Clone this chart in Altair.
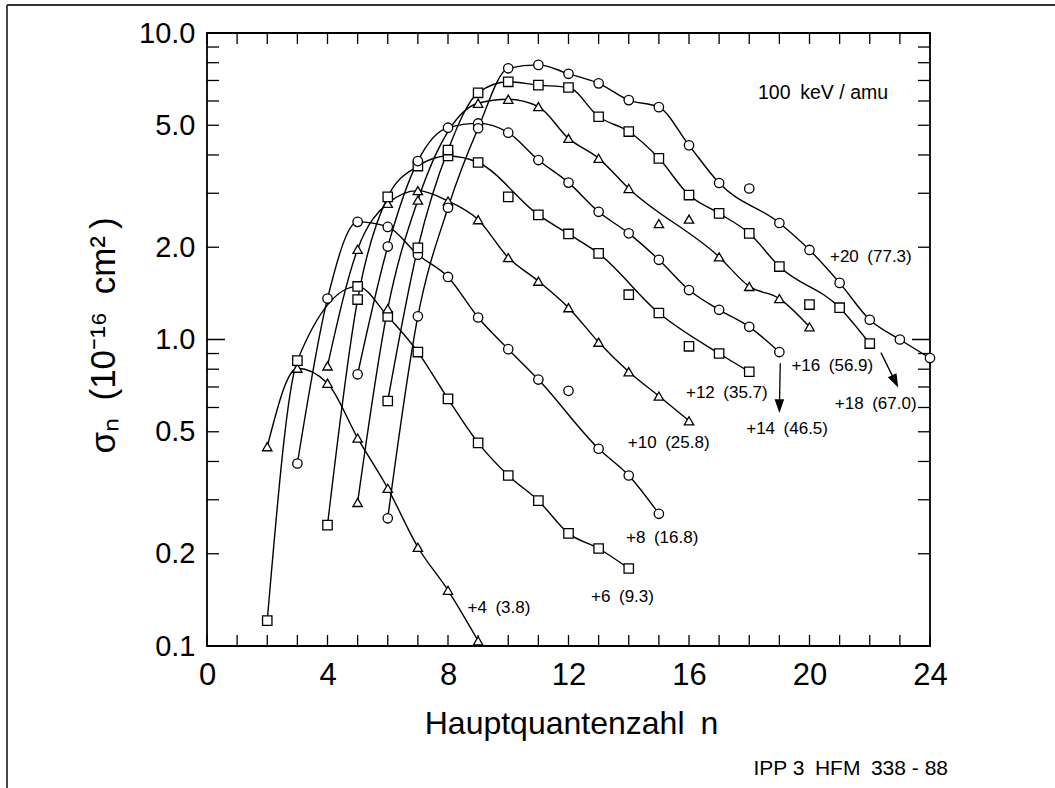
import altair as alt
import pandas as pd

# ---------------- data ----------------
series_names = ["+4", "+6", "+8", "+10", "+12", "+14", "+16", "+18", "+20"]
series_shapes = ["triangle-up", "square", "circle", "triangle-up", "square",
                 "circle", "triangle-up", "square", "circle"]

n_q4 = [2, 3, 4, 5, 6, 7, 8, 9]
s_q4 = [0.447, 0.806, 0.72, 0.477, 0.327, 0.21, 0.152, 0.104]

n_q6 = [2, 3, 5, 6, 7, 8, 9, 10, 11, 12, 13, 14]
s_q6 = [0.121, 0.853, 1.49, 1.19, 0.91, 0.64, 0.46, 0.36, 0.298, 0.233, 0.208, 0.179]

n_q8 = [3, 4, 5, 6, 7, 8, 9, 10, 11, 12, 13, 14, 15]
s_q8 = [0.394, 1.36, 2.42, 2.33, 1.89, 1.60, 1.18, 0.93, 0.74, 0.68, 0.44, 0.36, 0.27]

n_q10 = [4, 5, 6, 7, 8, 9, 10, 11, 12, 13, 14, 15, 16]
s_q10 = [0.82, 1.97, 2.78, 3.06, 2.83, 2.46, 1.85, 1.55, 1.27, 0.98, 0.785, 0.654, 0.543]

n_q12 = [4, 5, 6, 7, 8, 9, 10, 11, 12, 13, 14, 15, 16, 17, 18]
s_q12 = [0.248, 1.35, 2.92, 3.68, 3.97, 3.78, 2.92, 2.55, 2.21, 1.91, 1.40, 1.22, 0.95, 0.90, 0.785]

n_q14 = [5, 6, 7, 8, 9, 10, 11, 12, 13, 14, 15, 16, 17, 18, 19]
s_q14 = [0.77, 2.01, 3.82, 4.91, 5.07, 4.73, 3.85, 3.25, 2.61, 2.22, 1.82, 1.45, 1.25, 1.10, 0.91]

n_q16 = [5, 6, 7, 9, 10, 11, 12, 13, 14, 15, 16, 17, 18, 19, 20]
s_q16 = [0.294, 1.26, 2.85, 5.90, 6.08, 5.75, 4.53, 3.90, 3.11, 2.39, 2.47, 1.86, 1.49, 1.36, 1.10]

n_q18 = [6, 7, 8, 9, 10, 11, 12, 13, 14, 15, 16, 17, 18, 19, 20, 21, 22]
s_q18 = [0.63, 1.99, 4.15, 6.38, 6.93, 6.76, 6.64, 5.33, 4.77, 3.90, 2.96, 2.58, 2.22, 1.73, 1.30, 1.27, 0.97]

n_q20 = [6, 7, 8, 9, 10, 11, 12, 13, 14, 15, 16, 17, 18, 19, 20, 21, 22, 23, 24]
s_q20 = [0.261, 1.19, 2.69, 4.89, 7.67, 7.87, 7.36, 6.85, 6.04, 5.73, 4.30, 3.24, 3.11, 2.40,
         1.96, 1.53, 1.16, 1.0, 0.87]

# markers that lie off the drawn smooth curves
off_curve = {"+8": [12], "+12": [10, 14, 16], "+16": [15, 16], "+18": [20], "+20": [18]}

all_n = [n_q4, n_q6, n_q8, n_q10, n_q12, n_q14, n_q16, n_q18, n_q20]
all_s = [s_q4, s_q6, s_q8, s_q10, s_q12, s_q14, s_q16, s_q18, s_q20]

# curve labels
label_text = ["+4\u2002(3.8)", "+6\u2002(9.3)", "+8\u2002(16.8)", "+10\u2002(25.8)",
              "+12\u2002(35.7)", "+14\u2002(46.5)", "+16\u2002(56.9)", "+18\u2002(67.0)",
              "+20\u2002(77.3)"]
label_n = [8.65, 12.75, 13.91, 13.97, 15.9, 17.9, 19.4, 20.84, 20.68]
label_s = [0.133, 0.145, 0.225, 0.458, 0.67, 0.509, 0.819, 0.617, 1.86]

# arrows (start -> end) for +14 and +18
arrow_n0 = [19.03, 22.37]
arrow_s0 = [0.837, 0.906]
arrow_n1 = [19.0, 22.9]
arrow_s1 = [0.589, 0.711]
arrow_angle = [0, 334]

# axes
x_label_values = [0, 4, 8, 12, 16, 20, 24]
y_label_values = [0.1, 0.2, 0.5, 1.0, 2.0, 5.0, 10.0]
x_tick_values = list(range(0, 25))
y_minor_ticks = [0.2, 0.3, 0.4, 0.5, 0.6, 0.7, 0.8, 0.9, 2, 3, 4, 5, 6, 7, 8, 9]
y_major_ticks = [1.0]

# ---------------- build tables ----------------
rows = []
for name, shape, ns, ss in zip(series_names, series_shapes, all_n, all_s):
    for n, s in zip(ns, ss):
        rows.append({"series": name, "shape": shape, "n": n, "s": s,
                     "on": n not in off_curve.get(name, [])})
df = pd.DataFrame(rows)

labels_df = pd.DataFrame({"t": label_text, "n": label_n, "s": label_s})
arrows_df = pd.DataFrame({"n0": arrow_n0, "s0": arrow_s0, "n1": arrow_n1, "s1": arrow_s1,
                          "ang": arrow_angle})
xt_df = pd.DataFrame({"t": x_tick_values})
ymin_df = pd.DataFrame({"t": y_minor_ticks})
ymaj_df = pd.DataFrame({"t": y_major_ticks})

W, H = 723, 613
FONT = "Liberation Sans, Arial, Helvetica, sans-serif"

xs = alt.Scale(domain=[0, 24], nice=False, zero=False)
ys = alt.Scale(type="log", domain=[0.1, 10], nice=False)

x_axis = alt.Axis(values=x_label_values, labelFontSize=31, labelPadding=14, tickSize=0,
                  labelFlush=False, labelOverlap=False,
                  labelFont=FONT, labelColor="black", ticks=False, domain=False, grid=False,
                  title="Hauptquantenzahl\u2002n", titleFont=FONT, titleFontSize=32,
                  titleFontWeight="normal", titleColor="black", titleX=364, titleY=87,
                  titleAlign="center", titleBaseline="alphabetic")
y_axis = alt.Axis(values=y_label_values, format=".1f", labelFontSize=29, labelPadding=12,
                  labelFlush=False, labelOverlap=False,
                  tickSize=0, labelFont=FONT, labelColor="black", ticks=False, domain=False,
                  grid=False, title="σₙ\u2002(10⁻¹⁶\u2002cm²\u2009)", titleFont=FONT,
                  titleFontSize=35,
                  titleFontWeight="normal", titleColor="black", titleAngle=270,
                  titleX=-104, titleY=302, titleAlign="center", titleBaseline="middle")

X = lambda f: alt.X(f, scale=xs, axis=x_axis)
Y = lambda f: alt.Y(f, scale=ys, axis=y_axis)

lines = alt.Chart(df).transform_filter(alt.datum.on).mark_line(
    color="black", strokeWidth=1.4, interpolate="monotone"
).encode(x=X("n:Q"), y=Y("s:Q"), detail="series:N", order="n:Q")

points = alt.Chart(df).mark_point(
    filled=True, fill="white", stroke="black", strokeWidth=1.3, size=88, opacity=1, fillOpacity=1
).encode(x=X("n:Q"), y=Y("s:Q"), shape=alt.Shape("shape:N", scale=None))

labels = alt.Chart(labels_df).mark_text(
    align="left", baseline="middle", font=FONT, fontSize=17, color="black"
).encode(x=X("n:Q"), y=Y("s:Q"), text="t:N")

energy = alt.Chart(pd.DataFrame({"t": ["100\u2002keV / amu"], "n": [18.29], "s": [6.36]})).mark_text(
    align="left", baseline="middle", font=FONT, fontSize=19.5, color="black"
).encode(x=X("n:Q"), y=Y("s:Q"), text="t:N")

arrow_lines = alt.Chart(arrows_df).mark_rule(color="black", strokeWidth=1.3).encode(
    x=X("n0:Q"), x2="n1:Q", y=Y("s0:Q"), y2="s1:Q")
arrow_heads = alt.Chart(arrows_df).mark_point(
    shape="M-0.35,-1L0,0L0.35,-1Z", filled=True, fill="black", stroke="black",
    size=380, opacity=1
).encode(x=X("n1:Q"), y=Y("s1:Q"), angle=alt.Angle("ang:Q", scale=None))

TL = 11
tick_bottom = alt.Chart(xt_df).mark_rule(color="black", strokeWidth=1.3).encode(
    x=X("t:Q"), y=alt.value(H), y2=alt.value(H - TL))
tick_top = alt.Chart(xt_df).mark_rule(color="black", strokeWidth=1.3).encode(
    x=X("t:Q"), y=alt.value(0), y2=alt.value(TL))
tick_left = alt.Chart(ymin_df).mark_rule(color="black", strokeWidth=1.3).encode(
    y=Y("t:Q"), x=alt.value(0), x2=alt.value(12))
tick_right = alt.Chart(ymin_df).mark_rule(color="black", strokeWidth=1.3).encode(
    y=Y("t:Q"), x=alt.value(W - 12), x2=alt.value(W))
tick_left_major = alt.Chart(ymaj_df).mark_rule(color="black", strokeWidth=1.5).encode(
    y=Y("t:Q"), x=alt.value(0), x2=alt.value(18))
tick_right_major = alt.Chart(ymaj_df).mark_rule(color="black", strokeWidth=1.5).encode(
    y=Y("t:Q"), x=alt.value(W - 18), x2=alt.value(W))

footer = alt.Chart(pd.DataFrame({"t": ["IPP 3\u2002HFM\u2002338 - 88"]})).mark_text(
    align="right", baseline="alphabetic", font=FONT, fontSize=21, color="black"
).encode(x=alt.value(741), y=alt.value(742), text="t:N")

border_left = alt.Chart(pd.DataFrame({"a": [0]})).mark_rule(color="#333", strokeWidth=1.8).encode(
    x=alt.value(-200), y=alt.value(-28), y2=alt.value(H + 160))
border_top = alt.Chart(pd.DataFrame({"a": [0]})).mark_rule(color="#333", strokeWidth=1.8).encode(
    x=alt.value(-200), x2=alt.value(W + 130), y=alt.value(-28))

chart = alt.layer(
    lines, tick_bottom, tick_top, tick_left, tick_right, tick_left_major, tick_right_major,
    points, labels, energy, arrow_lines, arrow_heads, footer, border_left, border_top
).properties(
    width=W, height=H,
    autosize=alt.AutoSizeParams(type="none"),
    padding={"left": 207, "top": 33, "right": 125, "bottom": 142},
    background="white",
).configure_view(stroke="black", strokeWidth=1.8)

chart.save("out.html", embed_options={"renderer": "svg", "actions": False})
